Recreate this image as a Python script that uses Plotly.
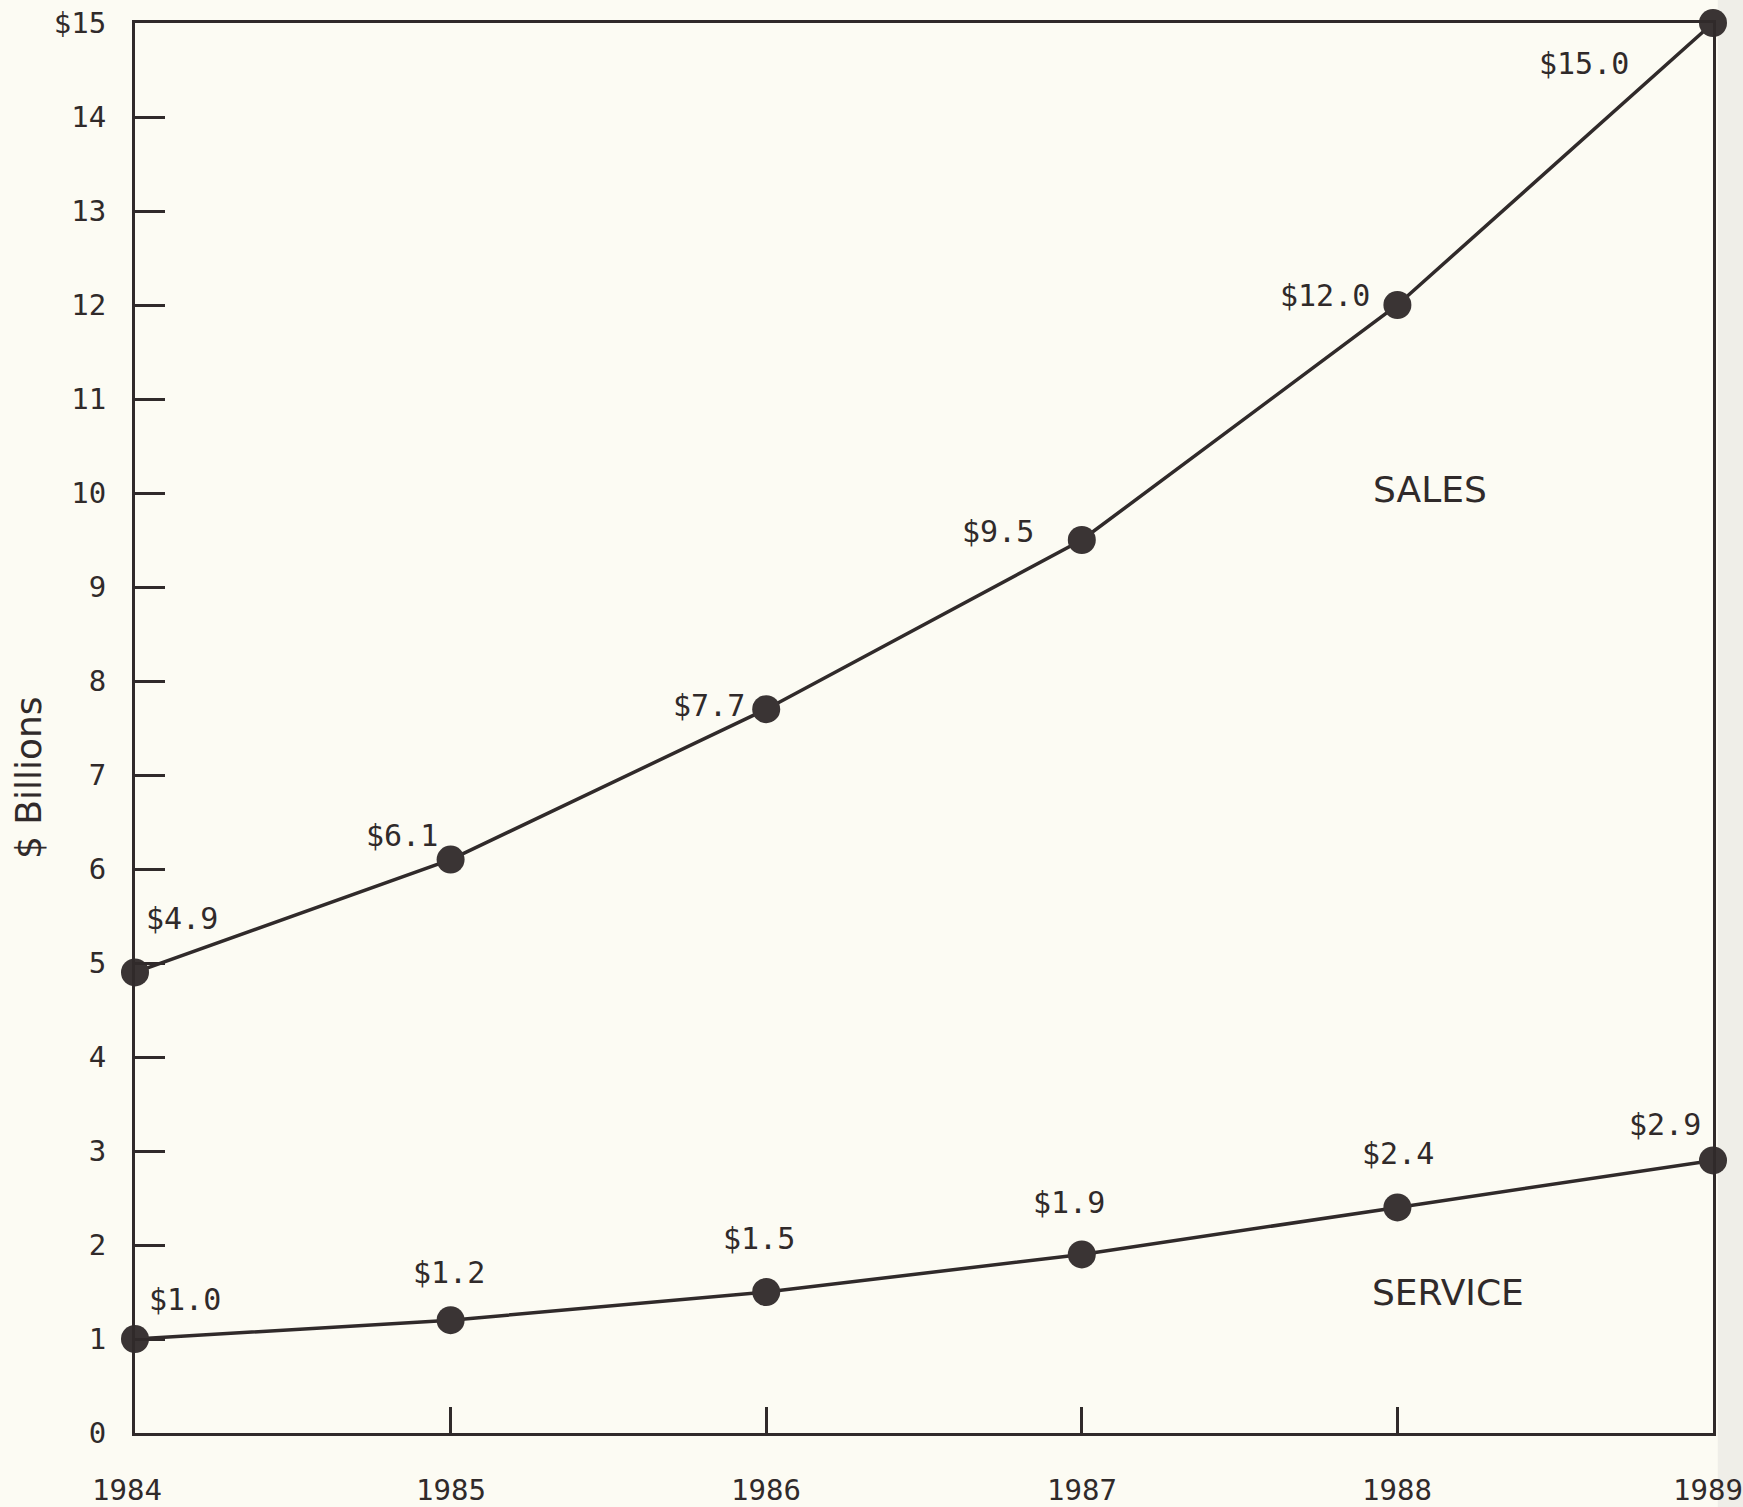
import plotly.graph_objects as go

# Annual revenue, $ billions
years = [1984, 1985, 1986, 1987, 1988, 1989]
sales = [4.9, 6.1, 7.7, 9.5, 12.0, 15.0]
service = [1.0, 1.2, 1.5, 1.9, 2.4, 2.9]

y_ticks = list(range(0, 16))
y_tick_text = [str(v) for v in y_ticks[:-1]] + ["$15"]

# pixel offsets of each value label from its point
sales_label_shift = [(47, 54), (-49, 24), (-57, 4), (-84, 9), (-72, 10), (-129, -40)]
service_label_shift = [(50, 40), (-2, 48), (-7, 54), (-13, 52), (1, 54), (-48, 36)]
# horizontal nudge of each year label under the axis
year_label_shift = [-8, 0, 0, 0, 0, -5]

INK = "#302a2a"
DOT = "#3a3434"
PAPER = "#fcfbf3"
MONO = "DejaVu Sans Mono"
SANS = "DejaVu Sans"

fig = go.Figure()

for series in (sales, service):
    fig.add_trace(go.Scatter(
        x=years, y=series, mode="lines+markers",
        line=dict(color=INK, width=3.5),
        marker=dict(size=28, color=DOT, line=dict(width=0)),
        cliponaxis=False, showlegend=False, hoverinfo="skip",
    ))

def value_labels(series, shifts):
    for yr, v, (dx, dy) in zip(years, series, shifts):
        fig.add_annotation(
            x=yr, y=v, xref="x", yref="y", text=f"${v:.1f}",
            showarrow=False, xshift=dx, yshift=dy,
            xanchor="center", yanchor="middle",
            font=dict(family=MONO, size=30, color=INK),
        )

value_labels(sales, sales_label_shift)
value_labels(service, service_label_shift)

# year labels beneath the x axis
for yr, dx in zip(years, year_label_shift):
    fig.add_annotation(
        x=yr, y=0, xref="x", yref="paper", text=str(yr),
        showarrow=False, xshift=dx, yshift=-57,
        xanchor="center", yanchor="middle",
        font=dict(family=MONO, size=29, color=INK),
    )

fig.add_annotation(x=0.8207, y=0.6695, xref="paper", yref="paper", text="SALES",
                   showarrow=False, xanchor="center", yanchor="middle",
                   font=dict(family=SANS, size=36, color=INK))
fig.add_annotation(x=0.832, y=0.0993, xref="paper", yref="paper", text="SERVICE",
                   showarrow=False, xanchor="center", yanchor="middle",
                   font=dict(family=SANS, size=36, color=INK))
fig.add_annotation(x=0, y=0.4645, xref="paper", yref="paper", text="$ Billions",
                   textangle=-90, showarrow=False, xshift=-107,
                   xanchor="center", yanchor="middle",
                   font=dict(family=SANS, size=36, color=INK))

# faint grey band along the right edge of the sheet
fig.add_shape(type="rect", xref="paper", yref="paper", x0=1.003, x1=1.02, y0=-0.06, y1=1.02,
              fillcolor="#efeee8", line=dict(width=0), layer="below")

fig.update_xaxes(
    range=[1984, 1989], tickvals=years, showticklabels=False,
    showline=True, mirror=True, linecolor=INK, linewidth=3,
    ticks="inside", ticklen=26, tickwidth=3, tickcolor=INK,
    showgrid=False, zeroline=False, automargin=False,
)
fig.update_yaxes(
    range=[0, 15], tickvals=y_ticks, ticktext=y_tick_text,
    showline=True, mirror=True, linecolor=INK, linewidth=3,
    ticks="inside", ticklen=30, tickwidth=3, tickcolor=INK,
    showgrid=False, zeroline=False, ticklabelstandoff=20,
    ticklabeloverflow="allow", automargin=False,
    tickfont=dict(family=MONO, size=29, color=INK),
)

fig.update_layout(
    width=1743, height=1507,
    margin=dict(l=135, r=30, t=23, b=74),
    paper_bgcolor=PAPER, plot_bgcolor=PAPER,
)

fig.write_html("out.html")
